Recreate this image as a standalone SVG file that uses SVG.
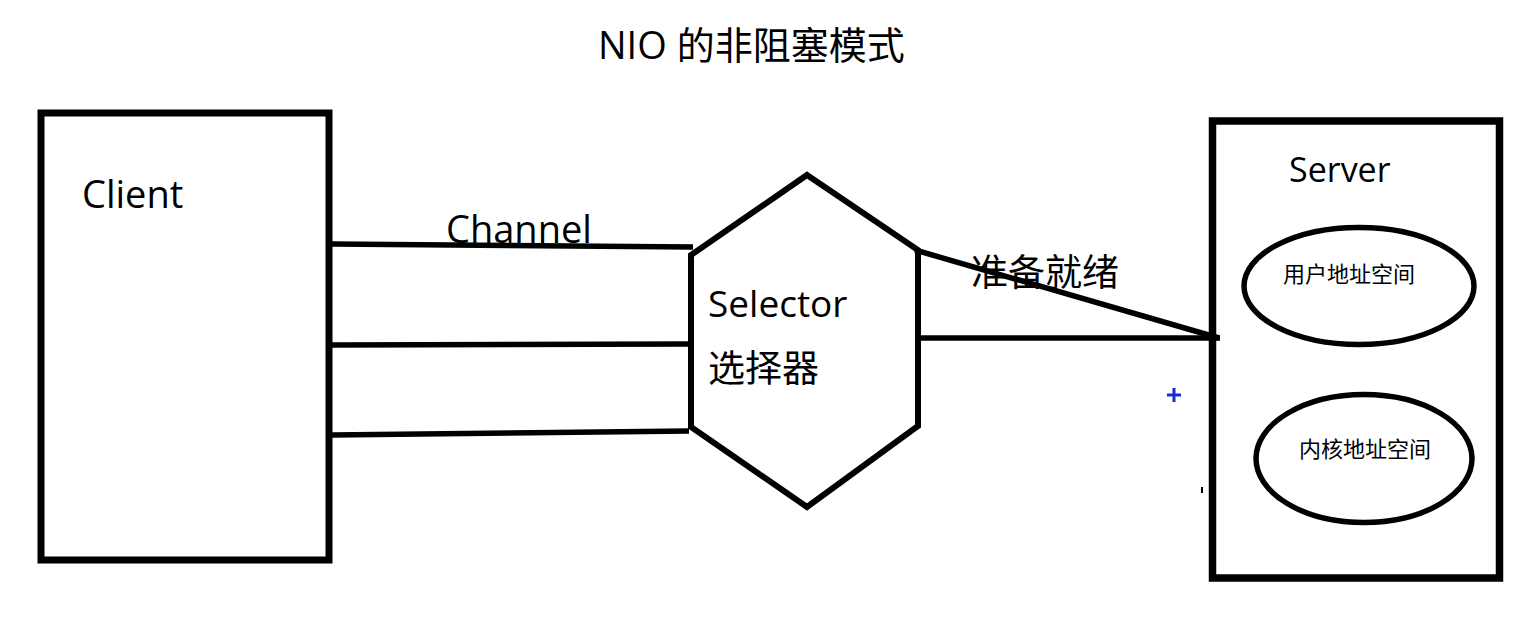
<svg xmlns="http://www.w3.org/2000/svg" width="1524" height="634" viewBox="0 0 1524 634">
<style>
.t{font-family:"Open Sans","Noto Sans CJK SC",sans-serif;fill:#000}
.s{fill:none;stroke:#000;stroke-linejoin:miter}
</style>
<rect x="0" y="0" width="1524" height="634" fill="#fff"/>
<text class="t" x="598" y="59" font-size="38">NIO 的非阻塞模式</text>
<g id="client">
<rect class="s" x="41" y="113" width="288" height="447" stroke-width="7"/>
<text class="t" x="82" y="208" font-size="38">Client</text>
</g>
<g id="selector">
<polygon class="s" points="807,175 918,250 918,426 807,507 691,427 691,255" stroke-width="6"/>
<text class="t" x="708" y="317" font-size="37">Selector</text>
<text class="t" x="708" y="382" font-size="37">选择器</text>
</g>
<g id="server">
<rect class="s" x="1212.5" y="121" width="287" height="457" stroke-width="7.5"/>
<text class="t" x="1289" y="182" font-size="34">Server</text>
<ellipse class="s" cx="1359" cy="286" rx="115" ry="58.5" stroke-width="5.5"/>
<text class="t" x="1283" y="282" font-size="22">用户地址空间</text>
<ellipse class="s" cx="1364" cy="458.5" rx="108" ry="64" stroke-width="5.5"/>
<text class="t" x="1299" y="457" font-size="22">内核地址空间</text>
</g>
<g id="connectors">
<line class="s" x1="332" y1="244" x2="693" y2="247" stroke-width="5.5"/>
<line class="s" x1="332" y1="345" x2="691" y2="344" stroke-width="5.5"/>
<line class="s" x1="332" y1="435" x2="689" y2="431" stroke-width="5.5"/>
<line class="s" x1="915" y1="250" x2="1219" y2="338" stroke-width="5.5"/>
<line class="s" x1="918" y1="338" x2="1220" y2="338" stroke-width="5.5"/>
<text class="t" x="446" y="243" font-size="38">Channel</text>
<text class="t" x="971" y="286" font-size="37">准备就绪</text>
</g>
<path d="M1167,395 H1181 M1174,388 V402" stroke="#1a2ad0" stroke-width="3" fill="none"/>
<rect x="1201" y="487" width="2" height="6" fill="#000"/>
</svg>
